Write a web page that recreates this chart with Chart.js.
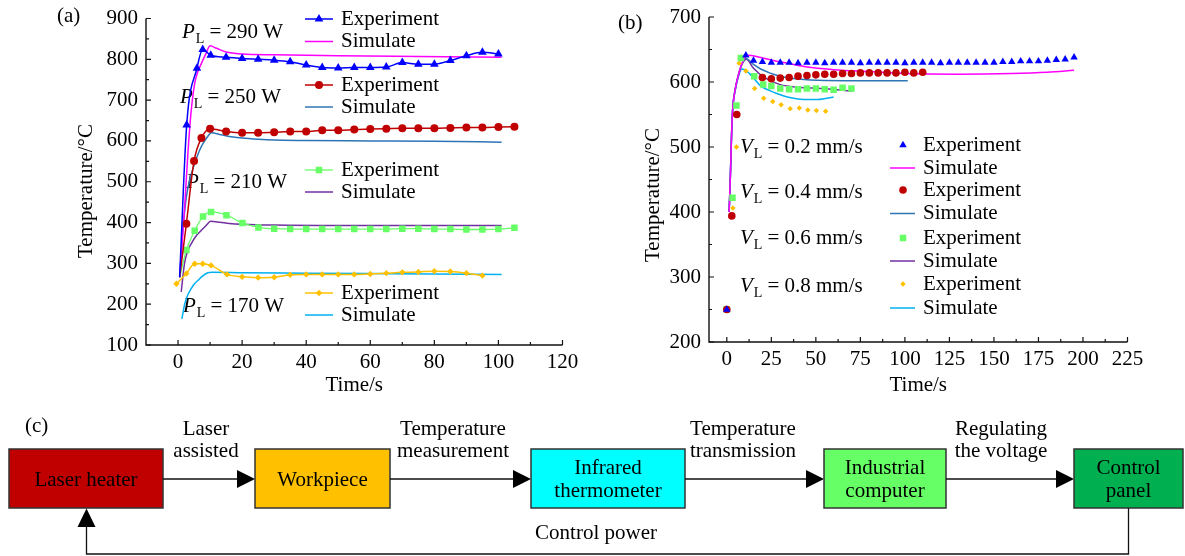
<!DOCTYPE html>
<html>
<head>
<meta charset="utf-8">
<title>Laser assisted heating: temperature curves</title>
<script src="https://cdn.jsdelivr.net/npm/chart.js@4"></script>
<style>
  html, body { margin: 0; padding: 0; background: #fff; }
  body { width: 1185px; height: 556px; position: relative; overflow: hidden; }
  #chartA { position: absolute; left: 0; top: 0; }
  #chartB { position: absolute; left: 600px; top: 0; }
  #flow { position: absolute; left: 0; top: 0; pointer-events: none; }
  #flow text { font-family: "Liberation Serif", "Times New Roman", serif; font-size: 21px; fill: #000; }
</style>
</head>
<body>
<canvas id="chartA" width="595" height="400"></canvas>
<canvas id="chartB" width="585" height="400"></canvas>
<svg id="flow" width="1185" height="556"></svg>

<script>
// ---- (a) laser power series: time (s) / temperature (°C) ----
const aPowers = [290, 250, 210, 170];

const aExpTime290 = [0.5, 2.7, 5.9, 7.7, 10.2, 15, 20, 25, 30, 35, 40, 45, 50, 55, 60, 65, 70, 75, 80, 85, 90, 95, 100];
const aExpTemp290 = [266, 639, 778, 824, 810, 805, 802, 800, 798, 794, 786, 780, 779, 780, 780, 781, 792, 788, 788, 797, 809, 817, 813];
const aSimTime290 = [0.5, 2, 3, 4, 5.2, 6.2, 7.3, 8.6, 10, 12, 15, 20, 30, 50, 75, 101];
const aSimTemp290 = [266, 430, 560, 665, 741, 770, 790, 812, 833, 827, 818, 813, 811, 809, 807, 805];

const aExpTime250 = [0.5, 2.6, 5, 7.3, 10, 15, 20, 25, 30, 35, 40, 45, 50, 55, 60, 65, 70, 75, 80, 85, 90, 95, 100, 105];
const aExpTemp250 = [266, 397, 551, 607, 630, 623, 620, 620, 621, 623, 623, 626, 626, 628, 629, 630, 631, 631, 631, 632, 633, 633, 634, 635];
const aSimTime250 = [0.5, 1.5, 2.6, 4, 5.2, 6.5, 7.8, 9, 10.4, 13, 16, 20, 25, 30, 40, 60, 80, 101];
const aSimTemp250 = [266, 380, 463, 515, 545, 573, 594, 608, 620, 616, 611, 607, 604, 602, 601, 600, 599, 597];

const aExpTime210 = [0.5, 2.6, 5.2, 7.8, 10.3, 15.1, 20.1, 25.1, 30, 35, 40, 45, 50, 55, 60, 65, 70, 75, 80, 85, 90, 95, 100, 105];
const aExpTemp210 = [266, 333, 380, 415, 426, 418, 399, 388, 385, 384, 384, 384, 384, 384, 384, 384, 385, 385, 384, 384, 383, 383, 384, 387];
const aSimTime210 = [1, 2, 3, 4.1, 5.5, 7.3, 8.7, 10.2, 13, 16, 20, 30, 50, 75, 101];
const aSimTemp210 = [230, 299, 330, 348, 366, 381, 392, 403, 401, 398, 396, 394, 393, 393, 393];

const aExpTime170 = [-0.5, 2.6, 5.2, 7.7, 10.3, 15.3, 20, 25, 30, 35, 40, 45, 50, 55, 60, 65, 70, 75, 80, 85, 90, 95];
const aExpTemp170 = [250, 275, 299, 299, 295, 273, 267, 265, 266, 272, 273, 273, 273, 273, 274, 276, 278, 279, 281, 280, 276, 270];
const aSimTime170 = [1.2, 2.1, 3, 4.1, 5, 6.2, 7.5, 9.3, 10.5, 20, 40, 60, 80, 101];
const aSimTemp170 = [164, 201, 222, 238, 249, 258, 268, 277, 278, 277, 276, 275, 274, 273];

const aTicksX = [0, 20, 40, 60, 80, 100, 120];
const aTicksY = [100, 200, 300, 400, 500, 600, 700, 800, 900];

// ---- (b) scanning speed series ----
const bSpeeds = [0.2, 0.4, 0.6, 0.8];

const bExpTime02 = [0, 10.7, 15, 20, 25, 30, 35, 40, 45, 50, 55, 60, 65, 70, 75, 80, 85, 90, 95, 100, 105, 110, 115, 120, 125, 130, 135, 140, 145, 150, 155, 160, 165, 170, 175, 180, 185, 190, 195];
const bExpTemp02 = [250, 641, 633, 631, 630, 630, 630, 629, 630, 630, 629, 630, 630, 630, 629, 630, 630, 630, 630, 629, 630, 630, 630, 629, 630, 630, 630, 630, 630, 630, 631, 631, 632, 632, 632, 633, 634, 635, 638];
const bSimTime02 = [1.3, 2, 2.8, 3.4, 4.8, 6.7, 9.4, 12.5, 20, 30, 45, 60, 80, 100, 130, 160, 180, 195];
const bSimTemp02 = [400, 455, 530, 562, 590, 613, 634, 641, 637, 631, 623, 619, 616, 613, 612, 613, 615, 618];

const bExpTime04 = [0, 2.8, 5.6, 20, 25, 30, 35, 40, 45, 50, 55, 60, 65, 70, 75, 80, 85, 90, 95, 100, 105, 110];
const bExpTemp04 = [250, 394, 550, 607, 605, 606, 607, 609, 610, 611, 612, 612, 613, 613, 614, 614, 614, 614, 614, 615, 614, 615];
const bSimTime04 = [1.3, 2, 2.8, 3.4, 4.8, 6.7, 8.5, 10.7, 15, 19, 24, 28.5, 35, 47, 66, 85, 101.6];
const bSimTemp04 = [400, 455, 530, 562, 590, 613, 628, 636, 627, 620, 614, 610, 606, 603, 602, 602, 602];

const bExpTime06 = [0, 3.2, 5.4, 7.9, 15.4, 20.4, 25, 30, 35, 40, 45, 50, 55, 60, 65, 70];
const bExpTemp06 = [250, 422, 564, 637, 609, 596, 594, 590, 589, 589, 590, 590, 589, 588, 591, 590];
const bSimTime06 = [1.3, 2, 2.8, 3.4, 4.8, 6.7, 8.5, 11, 15, 21, 30, 40, 53, 62, 70.7];
const bSimTemp06 = [400, 455, 530, 562, 590, 612, 627, 635, 621, 607, 596, 592, 590, 588, 586];

const bExpTime08 = [0, 3.4, 5.4, 6.9, 10.7, 15.6, 20.7, 25.8, 30.5, 35.6, 40.7, 45.5, 50.3, 55.5];
const bExpTemp08 = [250, 406, 500, 629, 617, 590, 575, 570, 565, 559, 560, 557, 556, 555];
const bSimTime08 = [1.3, 2, 2.8, 3.4, 4.8, 6.7, 8.5, 11, 15.4, 19, 24.7, 28.5, 34, 40, 45.3, 51, 56, 60];
const bSimTemp08 = [400, 455, 530, 562, 588, 610, 620, 617, 605, 594, 586, 582, 577, 574, 573, 573, 575, 577];

const bTicksX = [0, 25, 50, 75, 100, 125, 150, 175, 200, 225];
const bTicksY = [200, 300, 400, 500, 600, 700];

// ---- (c) control loop ----
const flowBoxes = ['Laser heater', 'Workpiece', 'Infrared\nthermometer', 'Industrial\ncomputer', 'Control\npanel'];
const flowFills = ['#C00000', '#FFC000', '#00FFFF', '#66FF66', '#00B050'];
const flowLinks = ['Laser\nassisted', 'Temperature\nmeasurement', 'Temperature\ntransmission', 'Regulating\nthe voltage'];
const feedbackLabel = 'Control power';

const SERIF = '"Liberation Serif", "Times New Roman", serif';
const FONT = '21px ' + SERIF;
const C = {
  blue: '#0000FF', magenta: '#FF00FF', red: '#C00000', steel: '#2E75B6',
  green: '#66FF66', purple: '#7030A0', yellow: '#FFC000', cyan: '#00B0F0'
};

function series(label, xs, ys, o) {
  return Object.assign({
    label,
    data: xs.map((x, i) => ({ x, y: ys[i] })),
    borderColor: o.color,
    backgroundColor: o.color,
    pointBackgroundColor: o.color,
    pointBorderColor: o.color,
    pointBorderWidth: 0,
    borderWidth: 1.5,
    pointRadius: 0,
    cubicInterpolationMode: 'monotone'
  }, o);
}

// first point hidden where the curve leaves the common start
function skipFirst(xs, r) { return xs.map((_, i) => (i === 0 ? 0 : r)); }

function marker(ctx, style, r, x, y, color) {
  ctx.save();
  ctx.fillStyle = color;
  ctx.beginPath();
  if (style === 'triangle') {
    ctx.moveTo(x, y - r);
    ctx.lineTo(x + 0.866 * r, y + 0.5 * r);
    ctx.lineTo(x - 0.866 * r, y + 0.5 * r);
  } else if (style === 'rect') {
    const s = Math.SQRT1_2 * r;
    ctx.rect(x - s, y - s, 2 * s, 2 * s);
  } else if (style === 'rectRot') {
    ctx.moveTo(x - r, y); ctx.lineTo(x, y - r); ctx.lineTo(x + r, y); ctx.lineTo(x, y + r);
  } else {
    ctx.arc(x, y, r, 0, Math.PI * 2);
  }
  ctx.closePath();
  ctx.fill();
  ctx.restore();
}

function midpoints(arr) {
  const out = [];
  for (let i = 0; i < arr.length - 1; i++) out.push((arr[i] + arr[i + 1]) / 2);
  return out;
}

// italic symbol with subscript, e.g. P_L = 290 W
function subLabel(ctx, x, y, sym, sub, rest) {
  ctx.textAlign = 'left';
  ctx.textBaseline = 'middle';
  ctx.font = 'italic ' + FONT;
  ctx.fillText(sym, x, y);
  let w = ctx.measureText(sym).width + 1;
  ctx.font = '14px ' + SERIF;
  ctx.fillText(sub, x + w, y + 7);
  w += ctx.measureText(sub).width + 5;
  ctx.font = FONT;
  ctx.fillText(rest, x + w, y);
}

const decorPlugin = {
  id: 'decor',
  beforeDatasetsDraw(chart, args, o) {
    const ctx = chart.ctx;
    ctx.save();
    ctx.fillStyle = '#000';
    o.notes.forEach(n => subLabel(ctx, n.x, n.y, n.sym, 'L', n.text));
    ctx.restore();
  },
  afterDraw(chart, args, o) {
    const { ctx, chartArea: a, scales: { x, y } } = chart;
    ctx.save();
    ctx.strokeStyle = '#111';
    ctx.lineWidth = 1.4;
    ctx.beginPath();
    ctx.moveTo(a.left, a.top);
    ctx.lineTo(a.left, a.bottom);
    ctx.lineTo(a.right, a.bottom);
    ctx.stroke();

    // inward ticks
    ctx.lineWidth = 1.2;
    ctx.beginPath();
    o.xTicks.forEach(v => { const p = x.getPixelForValue(v); ctx.moveTo(p, a.bottom); ctx.lineTo(p, a.bottom - 5); });
    midpoints(o.xTicks).forEach(v => { const p = x.getPixelForValue(v); ctx.moveTo(p, a.bottom); ctx.lineTo(p, a.bottom - 3); });
    o.yTicks.forEach(v => { const p = y.getPixelForValue(v); ctx.moveTo(a.left, p); ctx.lineTo(a.left + 5, p); });
    midpoints(o.yTicks).forEach(v => { const p = y.getPixelForValue(v); ctx.moveTo(a.left, p); ctx.lineTo(a.left + 3, p); });
    ctx.stroke();

    ctx.fillStyle = '#000';
    ctx.font = FONT;
    ctx.textAlign = 'center';
    ctx.textBaseline = 'middle';
    o.xTicks.forEach(v => ctx.fillText(String(v), x.getPixelForValue(v), a.bottom + 17));
    ctx.textAlign = 'right';
    o.yTicks.forEach(v => ctx.fillText(String(v), a.left - 8, y.getPixelForValue(v)));

    // axis titles and panel tag
    ctx.textAlign = 'center';
    ctx.fillText('Time/s', (a.left + a.right) / 2, o.xTitleY);
    ctx.save();
    ctx.translate(o.yTitle[0], o.yTitle[1]);
    ctx.rotate(-Math.PI / 2);
    ctx.fillText('Temperature/\u00B0C', 0, 0);
    ctx.restore();
    ctx.textAlign = 'left';
    ctx.fillText(o.tag[0], o.tag[1], o.tag[2]);

    // legend rows
    const L = o.legend;
    L.rows.forEach(row => {
      const ds = chart.data.datasets[row.ds];
      if (ds.showLine !== false) {
        ctx.strokeStyle = ds.borderColor;
        ctx.lineWidth = ds.borderWidth;
        ctx.beginPath();
        ctx.moveTo(L.line[0], row.y);
        ctx.lineTo(L.line[1], row.y);
        ctx.stroke();
      }
      const r = Math.max(...[].concat(ds.pointRadius));
      if (r > 0) marker(ctx, ds.pointStyle, r, L.mark, row.y, ds.pointBackgroundColor);
      ctx.fillStyle = '#000';
      ctx.font = FONT;
      ctx.textAlign = 'left';
      ctx.fillText(ds.label, L.text, row.y);
    });
    ctx.restore();
  }
};

function baseOptions(pad, xr, yr, decor) {
  return {
    responsive: false,
    animation: false,
    events: [],
    layout: { padding: pad },
    scales: {
      x: { type: 'linear', display: false, min: xr[0], max: xr[1] },
      y: { type: 'linear', display: false, min: yr[0], max: yr[1] }
    },
    plugins: { legend: { display: false }, tooltip: { enabled: false }, decor }
  };
}

// ---- chart (a) ----
new Chart(document.getElementById('chartA'), {
  type: 'line',
  data: {
    datasets: [
      series('Experiment', aExpTime290, aExpTemp290, { color: C.blue, pointStyle: 'triangle', pointRadius: skipFirst(aExpTime290, 5), order: 1 }),
      series('Simulate', aSimTime290, aSimTemp290, { color: C.magenta, order: 2 }),
      series('Experiment', aExpTime250, aExpTemp250, { color: C.red, pointStyle: 'circle', pointRadius: skipFirst(aExpTime250, 4), order: 1 }),
      series('Simulate', aSimTime250, aSimTemp250, { color: C.steel, order: 2 }),
      series('Experiment', aExpTime210, aExpTemp210, { color: C.green, pointStyle: 'rect', pointRadius: skipFirst(aExpTime210, 4.6), borderWidth: 1.3, order: 1 }),
      series('Simulate', aSimTime210, aSimTemp210, { color: C.purple, order: 2 }),
      series('Experiment', aExpTime170, aExpTemp170, { color: C.yellow, pointStyle: 'rectRot', pointRadius: 3.2, order: 1 }),
      series('Simulate', aSimTime170, aSimTemp170, { color: C.cyan, order: 2 })
    ]
  },
  options: baseOptions({ left: 146, right: 32.5, top: 18.5, bottom: 55 }, [-10, 120], [100, 900], {
    xTicks: aTicksX,
    yTicks: aTicksY,
    xTitleY: 385,
    yTitle: [86, 191],
    tag: ['(a)', 57, 16],
    notes: [
      { sym: 'P', text: '= ' + aPowers[0] + ' W', x: 182, y: 32 },
      { sym: 'P', text: '= ' + aPowers[1] + ' W', x: 180, y: 97 },
      { sym: 'P', text: '= ' + aPowers[2] + ' W', x: 186, y: 182 },
      { sym: 'P', text: '= ' + aPowers[3] + ' W', x: 183, y: 306 }
    ],
    legend: {
      line: [305, 333], mark: 319, text: 341,
      rows: [
        { ds: 0, y: 19 }, { ds: 1, y: 41.5 }, { ds: 2, y: 85 }, { ds: 3, y: 107 },
        { ds: 4, y: 170 }, { ds: 5, y: 192 }, { ds: 6, y: 293 }, { ds: 7, y: 315 }
      ]
    }
  }),
  plugins: [decorPlugin]
});

// ---- chart (b) ----
new Chart(document.getElementById('chartB'), {
  type: 'line',
  data: {
    datasets: [
      series('Experiment', bExpTime02, bExpTemp02, { color: C.blue, pointStyle: 'triangle', pointRadius: 4.3, showLine: false, order: 1 }),
      series('Simulate', bSimTime02, bSimTemp02, { color: C.magenta, order: 2 }),
      series('Experiment', bExpTime04, bExpTemp04, { color: C.red, pointStyle: 'circle', pointRadius: 3.8, showLine: false, order: 1 }),
      series('Simulate', bSimTime04, bSimTemp04, { color: C.steel, order: 2 }),
      series('Experiment', bExpTime06, bExpTemp06, { color: C.green, pointStyle: 'rect', pointRadius: 4.6, showLine: false, order: 1 }),
      series('Simulate', bSimTime06, bSimTemp06, { color: C.purple, order: 2 }),
      series('Experiment', bExpTime08, bExpTemp08, { color: C.yellow, pointStyle: 'rectRot', pointRadius: 2.7, showLine: false, order: 1 }),
      series('Simulate', bSimTime08, bSimTemp08, { color: C.cyan, order: 2 })
    ]
  },
  options: baseOptions({ left: 109, right: 57.5, top: 17, bottom: 58 }, [-10, 225], [200, 700], {
    xTicks: bTicksX,
    yTicks: bTicksY,
    xTitleY: 385,
    yTitle: [53, 195],
    tag: ['(b)', 18, 23],
    notes: bSpeeds.map((v, i) => ({ sym: 'V', text: '= ' + v + ' mm/s', x: 140, y: [147, 192, 238, 286][i] })),
    legend: {
      line: [290, 315], mark: 303, text: 323,
      rows: [
        { ds: 0, y: 145 }, { ds: 1, y: 168 }, { ds: 2, y: 190 }, { ds: 3, y: 213.5 },
        { ds: 4, y: 238 }, { ds: 5, y: 261 }, { ds: 6, y: 284 }, { ds: 7, y: 308 }
      ]
    }
  }),
  plugins: [decorPlugin]
});

// ---- (c) block diagram ----
(function drawFlow() {
  const svg = document.getElementById('flow');
  const NS = 'http://www.w3.org/2000/svg';
  const el = (tag, attrs, text) => {
    const n = document.createElementNS(NS, tag);
    for (const k in attrs) n.setAttribute(k, attrs[k]);
    if (text !== undefined) n.textContent = text;
    svg.appendChild(n);
    return n;
  };
  const lines = (str, cx, cy, gap) => {
    const parts = str.split('\n');
    const y0 = cy - (parts.length - 1) * gap / 2;
    parts.forEach((p, i) => el('text', { x: cx, y: y0 + i * gap, 'text-anchor': 'middle', 'dominant-baseline': 'central' }, p));
  };
  const boxX = [[9, 163], [255, 390], [531, 685], [824, 946], [1074, 1183]];
  const top = 449, bottom = 508, mid = 479;
  const linkX = [206, 453, 743, 1001];

  el('text', { x: 25, y: 425, 'dominant-baseline': 'central' }, '(c)');

  boxX.forEach(([l, r], i) => {
    el('rect', { x: l, y: top, width: r - l, height: bottom - top, fill: flowFills[i], stroke: '#333', 'stroke-width': 1.5 });
    lines(flowBoxes[i], (l + r) / 2, mid - 0.5, 23);
    if (i < boxX.length - 1) {
      const x0 = r, x1 = boxX[i + 1][0];
      el('line', { x1: x0, y1: mid, x2: x1 - 17, y2: mid, stroke: '#111', 'stroke-width': 1.3 });
      el('polygon', { points: `${x1 - 18},${mid - 9} ${x1},${mid} ${x1 - 18},${mid + 9}`, fill: '#000' });
      lines(flowLinks[i], linkX[i], 439, 22.5);
    }
  });

  // feedback from control panel back to the laser heater
  el('polyline', { points: `1128.5,${bottom} 1128.5,554 86.5,554 86.5,526`, fill: 'none', stroke: '#111', 'stroke-width': 1.3 });
  el('polygon', { points: `77.5,527 86.5,${bottom + 0.5} 95.5,527`, fill: '#000' });
  lines(feedbackLabel, 596, 532, 22);
})();
</script>
</body>
</html>
